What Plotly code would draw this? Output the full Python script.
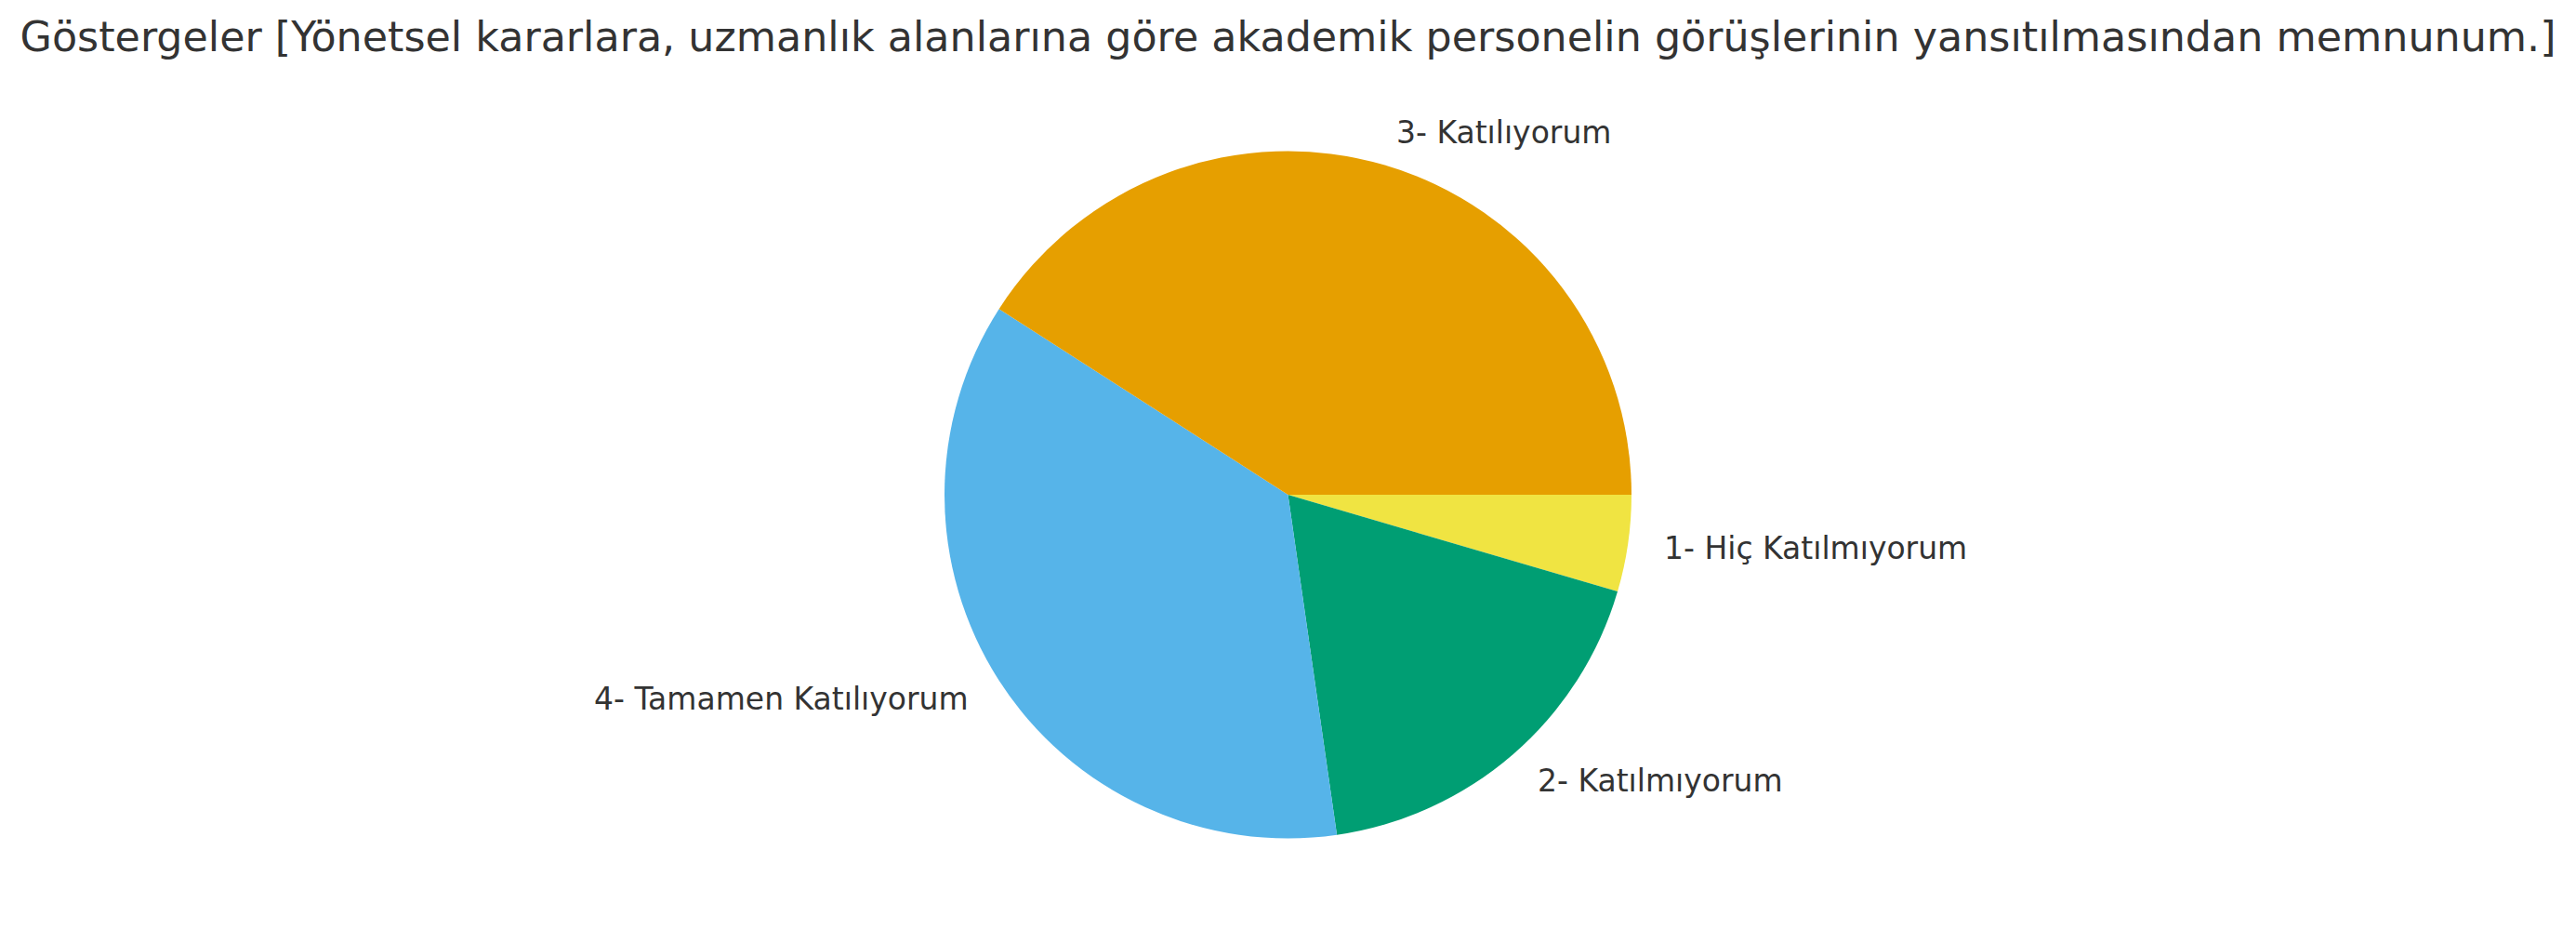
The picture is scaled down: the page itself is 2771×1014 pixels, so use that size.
import math

import plotly.graph_objects as go

# Survey answers (counts, total 22), counter-clockwise from 3 o'clock
labels = ["3- Katılıyorum", "4- Tamamen Katılıyorum", "2- Katılmıyorum", "1- Hiç Katılmıyorum"]
counts = [9, 8, 4, 1]
colors = ["#E69F00", "#56B4E9", "#009E73", "#F0E442"]

title = (
    "Göstergeler [Yönetsel kararlara, uzmanlık alanlarına göre akademik "
    "personelin görüşlerinin yansıtılmasından memnunum.]"
)

W, H = 2771, 1014
OFF = 8  # the page body adds an 8px margin around the figure
cx, cy, r = 1385.5 - OFF, 532 - OFF, 369.5  # pie centre and radius in figure pixels
text_color = "#333333"

# plotly draws clockwise from the rotation point, so feed the slices reversed
fig = go.Figure(
    go.Pie(
        labels=labels[::-1],
        values=counts[::-1],
        sort=False,
        direction="clockwise",
        rotation=90,
        marker={"colors": colors[::-1], "line": {"width": 0}},
        textinfo="none",
        showlegend=False,
        hoverinfo="label+value+percent",
        domain={"x": [(cx - r) / W, (cx + r) / W], "y": [(H - cy - r) / H, (H - cy + r) / H]},
    )
)

# matplotlib style labels: 1.1 x radius at the middle angle of each slice
total = sum(counts)
start = 0.0
for label, value in zip(labels, counts):
    mid = math.radians(360 * (start + value / 2) / total)
    start += value
    px = cx + 1.1 * r * math.cos(mid)
    py = cy - 1.1 * r * math.sin(mid)
    fig.add_annotation(
        x=px / W,
        y=1 - py / H,
        xref="paper",
        yref="paper",
        text=label,
        showarrow=False,
        xanchor="left" if math.cos(mid) >= 0 else "right",
        yanchor="middle",
        font={"family": "DejaVu Sans", "size": 33, "color": text_color},
    )

fig.update_layout(
    width=W,
    height=H,
    margin={"l": 0, "r": 0, "t": 0, "b": 0},
    paper_bgcolor="white",
    plot_bgcolor="white",
    title={
        "text": title,
        "x": (1385.5 - OFF) / W,
        "xanchor": "center",
        "y": 1 - (39 - OFF) / H,
        "yanchor": "middle",
        "font": {"family": "DejaVu Sans", "size": 44.4, "color": text_color},
    },
)

fig.write_html("out.html")
